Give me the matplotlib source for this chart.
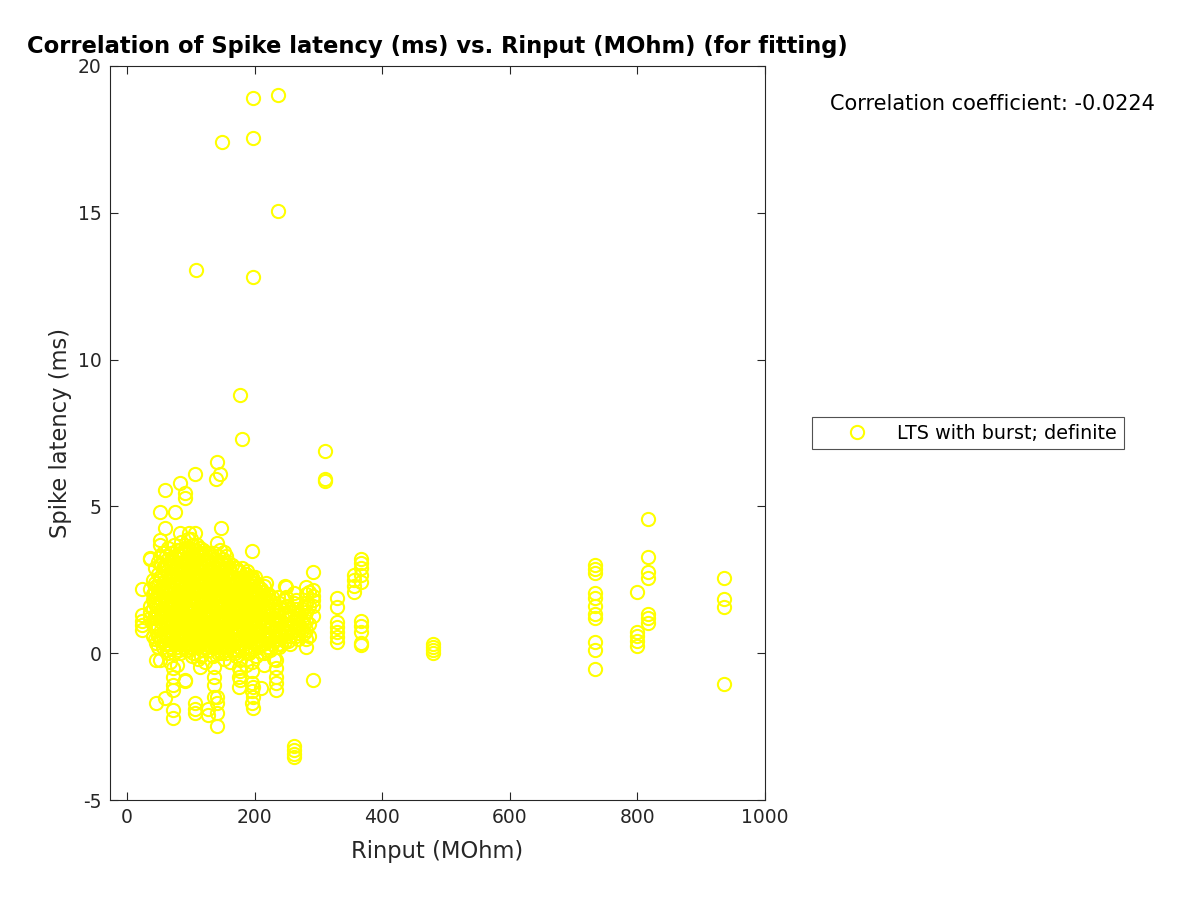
import numpy as np
import matplotlib
matplotlib.use("Agg")
import matplotlib.pyplot as plt

plt.rcParams["axes.unicode_minus"] = False

# one entry per cell: input resistance (MOhm) and the spike latencies (ms) of its sweeps
rinput = [23, 36, 41, 46, 52, 56, 59, 63, 67, 72, 76, 79, 83, 87, 91, 95, 98, 102,
          106, 108, 111, 114, 118, 122, 127, 131, 135, 137, 139, 141, 146, 148, 149,
          152, 157, 162, 167, 171, 175, 177, 178, 181, 186, 191, 196, 197, 198, 203,
          210, 215, 218, 224, 230, 234, 237, 242, 247, 250, 256, 262, 268, 274, 281,
          285, 291, 311, 330, 356, 367, 480, 733, 800, 816, 936,
          44, 49, 54, 61, 65, 69, 74, 78, 81, 85, 89, 93, 97, 100, 104, 110, 113,
          116, 120, 124, 129, 133, 143, 145, 151, 155, 159, 164, 169, 173, 180, 184,
          188, 193, 200, 206, 213, 221, 227, 239, 253, 265, 277]
latency = [
    [2.2, 1.3, 1.1, 0.95, 0.8],
    [3.2, 3.25, 2.2, 1.6, 1.4, 1.2],
    [2.5, 2.0, 1.8, 1.5, 1.0, 0.6],
    [2.3, 1.9, 1.2, 0.8, 0.34, -0.24, -1.69, 1.6],
    [3.84, 3.68, 3.3, 2.6, 1.7, 1.1, 0.5, -0.24, 4.8],
    [3.4, 2.9, 2.4, 1.9, 1.5, 1.0, 0.6, 0.2],
    [5.55, 4.25, 3.0, 2.2, 1.3, 0.7, -1.54],
    [2.8, 2.3, 1.8, 1.4, 1.0, 0.5, 0.1],
    [3.1, 2.6, 2.0, 1.6, 1.2, 0.8, 0.3, -0.3],
    [2.5, 2.0, 1.5, 1.1, 0.7, -0.5, -0.8, -1.1, -1.26, -1.95, -2.2],
    [4.8, 3.3, 2.8, 2.2, 1.7, 1.3, 0.9, 0.4],
    [2.9, 2.4, 1.9, 1.5, 1.0, 0.6, 0.2, -0.4],
    [5.8, 4.1, 3.5, 2.7, 2.1, 1.6, 1.1, 0.5, 0.0],
    [3.0, 2.5, 2.0, 1.4, 0.9, 0.4],
    [5.45, 5.3, 3.6, 2.8, 2.3, 1.8, 1.2, 0.7, -0.92, -0.95],
    [3.9, 3.2, 2.6, 2.0, 1.5, 1.0, 0.5, 0.1],
    [4.1, 3.4, 2.9, 2.3, 1.7, 1.2, 0.8, 0.3],
    [3.7, 3.0, 2.4, 1.9, 1.4, 0.9, 0.4, -0.1],
    [6.1, 4.1, 3.2, 2.7, 2.1, 1.6, 1.1, 0.6, -1.7, -2.05, -1.9],
    [13.05, 3.5, 2.5, 1.8, 1.3, 0.7, 0.2],
    [3.3, 2.8, 2.2, 1.7, 1.2, 0.8, 0.3, -0.2],
    [3.6, 3.0, 2.5, 1.9, 1.4, 0.9, 0.5, -0.48],
    [2.9, 2.4, 1.9, 1.5, 1.0, 0.6, 0.1],
    [3.4, 2.7, 2.1, 1.6, 1.1, 0.7, 0.2, -0.3],
    [3.1, 2.6, 2.0, 1.5, 1.0, 0.5, -2.1, -1.9],
    [3.3, 2.8, 2.3, 1.8, 1.3, 0.8, 0.3],
    [2.9, 2.4, 1.9, 1.4, 0.9, 0.4, -0.1],
    [3.4, 2.6, 2.0, 1.5, 1.0, 0.5, -0.48, -0.8, -1.1, -1.5],
    [5.95, 3.2, 2.7, 2.2, 1.7, 1.2, 0.7, 0.2],
    [6.5, 3.75, 3.0, 2.4, 1.9, 1.4, 0.9, 0.4, -1.5, -1.7, -2.05, -2.48],
    [6.1, 3.5, 2.8, 2.3, 1.8, 1.2, 0.7, 0.2],
    [4.26, 3.1, 2.5, 2.0, 1.5, 1.0, 0.5, 0.0],
    [17.4, 2.2, 1.6, 1.1, 0.6],
    [3.45, 2.9, 2.3, 1.7, 1.2, 0.7, 0.2, -0.2],
    [3.0, 2.5, 2.0, 1.5, 1.0, 0.5, 0.1],
    [2.8, 2.3, 1.8, 1.3, 0.8, 0.3, -0.3],
    [2.6, 2.1, 1.6, 1.1, 0.6, 0.1],
    [2.9, 2.4, 1.9, 1.4, 0.9, 0.4, -0.1],
    [2.8, 2.2, 1.7, 1.2, 0.7, 0.2, -0.5, -0.8, -1.15],
    [2.5, 2.0, 1.5, 1.0, 0.5, -0.24, -0.6, -0.9],
    [8.8, 2.3, 1.8, 1.3],
    [7.3, 2.6, 2.1, 1.6, 1.1, 0.6],
    [2.7, 2.2, 1.7, 1.2, 0.7, 0.2, -0.4],
    [2.5, 2.0, 1.5, 1.0, 0.5, 0.0],
    [3.48, 2.6, 2.1, 1.6, 1.1, 0.6, 0.1, -0.3, -0.6, -1.0, -1.3, -1.7],
    [2.5, 1.9, 1.4, 0.9, 0.4, -1.15, -1.5, -1.85],
    [18.9, 17.55, 12.8, 2.3, 1.7, 1.2],
    [2.4, 1.9, 1.4, 0.9, 0.4, -0.1],
    [2.2, 1.8, 1.3, 0.8, 0.3, -1.2],
    [2.3, 1.9, 1.4, 1.0, 0.5, 0.0, -0.4],
    [2.38, 2.0, 1.5, 1.1, 0.6, 0.1],
    [1.8, 1.3, 0.9, 0.5, 0.1],
    [1.6, 1.2, 0.8, 0.4, -0.2],
    [1.4, 1.0, 0.6, 0.2, -0.24, -0.5, -0.8, -1.0, -1.26],
    [19.0, 15.05, 1.9, 1.3, 0.7, 0.3],
    [1.5, 1.1, 0.6, 0.3],
    [2.3, 1.8, 1.3, 0.8, 0.4],
    [2.25, 1.9, 1.6, 1.3, 1.0, 0.9, 0.6],
    [1.2, 0.9, 0.6, 0.3],
    [2.04, 1.7, 1.4, 1.1, 0.8, -3.17, -3.3, -3.44, -3.54],
    [1.3, 1.0, 0.7, 0.5],
    [1.5, 1.1, 0.8],
    [2.25, 2.0, 1.7, 1.4, 1.1, 0.8, 0.5, 0.2],
    [2.1, 1.6, 1.0, 0.6],
    [2.77, 2.15, 1.94, 1.8, 1.6, 1.26, -0.92],
    [6.9, 5.95, 5.85],
    [1.87, 1.57, 1.06, 0.89, 0.72, 0.54, 0.37],
    [2.66, 2.49, 2.28, 2.08],
    [3.2, 3.07, 2.9, 2.66, 2.42, 1.09, 0.92, 0.72, 0.34, 0.27],
    [0.3, 0.2, 0.1, 0.0],
    [3.0, 2.86, 2.72, 2.04, 1.87, 1.6, 1.33, 1.19, 0.37, 0.1, -0.55],
    [2.08, 0.72, 0.58, 0.41, 0.24],
    [4.56, 3.27, 2.76, 2.55, 1.33, 1.19, 1.02],
    [2.55, 1.84, 1.57, -1.06],
    # dense core of the cluster
    [2.9, 2.4, 2.1, 1.7, 1.3, 0.9, 0.5],
    [3.1, 2.7, 2.3, 2.0, 1.6, 1.3, 0.9, 0.6, 0.2],
    [3.0, 2.6, 2.2, 1.8, 1.4, 1.2, 0.8, 0.4],
    [3.3, 2.9, 2.5, 2.1, 1.7, 1.4, 1.1, 0.7, 0.3],
    [3.6, 3.2, 2.7, 2.3, 2.0, 1.6, 1.2, 0.9, 0.5, 0.0],
    [3.4, 3.0, 2.6, 2.2, 1.8, 1.4, 1.0, 0.6, 0.2],
    [3.7, 3.1, 2.7, 2.3, 1.9, 1.6, 1.2, 0.8, 0.4, 0.0],
    [3.5, 3.0, 2.6, 2.1, 1.8, 1.4, 1.1, 0.7, 0.3],
    [3.2, 2.8, 2.4, 2.0, 1.7, 1.3, 0.9, 0.5, 0.1],
    [3.8, 3.3, 2.9, 2.5, 2.2, 1.8, 1.5, 1.1, 0.7, 0.3],
    [3.4, 3.0, 2.6, 2.1, 1.7, 1.3, 1.0, 0.6, 0.2],
    [3.5, 3.1, 2.7, 2.4, 2.0, 1.6, 1.3, 0.9, 0.5, 0.1],
    [3.6, 3.2, 2.8, 2.4, 2.1, 1.8, 1.4, 1.0, 0.6, 0.2],
    [3.9, 3.3, 2.9, 2.5, 2.2, 1.8, 1.5, 1.1, 0.7, 0.3],
    [3.5, 3.0, 2.6, 2.3, 1.9, 1.5, 1.2, 0.8, 0.4, 0.0],
    [3.7, 3.2, 2.9, 2.5, 2.1, 1.8, 1.4, 1.0, 0.6, 0.2],
    [3.4, 3.0, 2.7, 2.3, 2.0, 1.6, 1.2, 0.8, 0.4],
    [3.3, 3.0, 2.6, 2.2, 1.8, 1.5, 1.1, 0.7, 0.3, -0.1],
    [3.5, 3.1, 2.8, 2.4, 2.0, 1.7, 1.3, 0.9, 0.5, 0.1],
    [3.2, 2.9, 2.5, 2.2, 1.8, 1.4, 1.0, 0.6, 0.3],
    [3.4, 3.0, 2.6, 2.2, 1.9, 1.6, 1.2, 0.9, 0.5, 0.1],
    [3.1, 2.8, 2.5, 2.1, 1.7, 1.4, 1.0, 0.6, 0.2],
    [3.3, 2.9, 2.6, 2.2, 1.8, 1.5, 1.1, 0.8, 0.4, 0.0],
    [3.0, 2.7, 2.4, 2.0, 1.7, 1.3, 0.9, 0.5, 0.1],
    [3.2, 2.8, 2.5, 2.1, 1.8, 1.4, 1.0, 0.6, 0.3],
    [3.3, 2.9, 2.6, 2.2, 1.9, 1.5, 1.1, 0.8, 0.4, 0.0],
    [3.1, 2.7, 2.4, 2.1, 1.7, 1.3, 0.9, 0.6, 0.2],
    [3.0, 2.6, 2.3, 2.0, 1.6, 1.2, 0.9, 0.5, 0.1],
    [2.9, 2.6, 2.2, 1.9, 1.5, 1.2, 0.8, 0.4, 0.0],
    [2.8, 2.5, 2.1, 1.8, 1.5, 1.1, 0.8, 0.4, 0.1],
    [2.9, 2.5, 2.2, 1.9, 1.5, 1.2, 0.9, 0.5, 0.1],
    [2.6, 2.3, 2.0, 1.6, 1.3, 0.9, 0.6, 0.3],
    [2.8, 2.4, 2.1, 1.8, 1.4, 1.1, 0.8, 0.4, 0.0],
    [2.6, 2.3, 1.9, 1.6, 1.3, 0.9, 0.6, 0.2],
    [2.6, 2.2, 1.9, 1.6, 1.3, 1.0, 0.7, 0.3],
    [2.3, 2.0, 1.7, 1.4, 1.1, 0.8, 0.5, 0.2],
    [2.1, 1.8, 1.5, 1.2, 0.9, 0.6, 0.3],
    [2.0, 1.7, 1.4, 1.1, 0.8, 0.5, 0.2],
    [1.9, 1.5, 1.2, 0.9, 0.6, 0.3],
    [1.7, 1.4, 1.1, 0.8, 0.5, 0.2],
    [1.6, 1.3, 1.0, 0.7, 0.4],
    [1.8, 1.5, 1.2, 0.9, 0.6],
    [1.6, 1.3, 1.0, 0.7],
]
corr_text = "Correlation coefficient: -0.0224"

x = np.concatenate([[r] * len(l) for r, l in zip(rinput, latency)])
y = np.concatenate(latency)

fig = plt.figure(figsize=(12, 9), dpi=100)
ax = fig.add_axes([110 / 1200, 100 / 900, 655 / 1200, 734 / 900])

ax.plot(x, y, linestyle="none", marker="o", markersize=9.5, markerfacecolor="none",
        markeredgecolor="#ffff00", markeredgewidth=1.5, label="LTS with burst; definite")

ax.set_xlim(-26.5, 1000)
ax.set_ylim(-5, 20)
ax.set_xticks([0, 200, 400, 600, 800, 1000])
ax.set_yticks([-5, 0, 5, 10, 15, 20])
ax.tick_params(direction="in", length=6, width=0.8, labelsize=13.5, colors="#262626",
               top=True, right=True, pad=6)
for s in ax.spines.values():
    s.set_color("#262626")
    s.set_linewidth(0.8)

ax.set_xlabel("Rinput (MOhm)", fontsize=16.3, color="#262626", labelpad=9)
ax.set_ylabel("Spike latency (ms)", fontsize=16.3, color="#262626")
ax.set_title("Correlation of Spike latency (ms) vs. Rinput (MOhm) (for fitting)",
             fontsize=16.3, fontweight="bold", pad=9)

fig.text(830 / 1200, 1 - 104 / 900, corr_text, fontsize=15, va="center", ha="left")

leg = fig.legend(loc="upper left", bbox_to_anchor=(812 / 1200, 1 - 417 / 900),
                 fontsize=13.8, frameon=True, fancybox=False, edgecolor="#262626",
                 handlelength=4.0, handletextpad=0.1, markerscale=1.0, borderpad=0.35,
                 borderaxespad=0)
leg.get_frame().set_linewidth(0.8)

fig.savefig("out.png", dpi=100)
